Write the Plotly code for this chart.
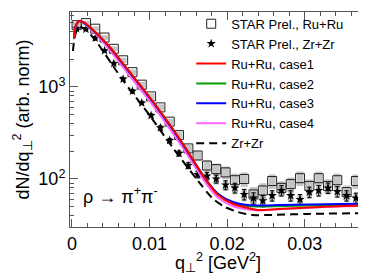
import plotly.graph_objects as go

# ---------------- data ----------------
# theory curves (q_perp^2 in GeV^2, dN/dq^2)
q_case1 = [0.00026, 0.00052, 0.0009, 0.00142, 0.00245, 0.00465, 0.00723, 0.0098, 0.0120, 0.01432, 0.01626, 0.01755, 0.01884, 0.02077, 0.0227, 0.0240, 0.0266, 0.03045, 0.0350, 0.0390]
y_case1 = [3412, 4720, 5215, 5090, 4378, 2862, 1531, 818, 460, 240, 132, 90.6, 67.0, 53.5, 48.4, 46.0, 47.2, 49.0, 50.9, 50.9]

q_case2 = [0.00026, 0.00052, 0.0009, 0.00142, 0.00245, 0.00465, 0.00723, 0.0098, 0.0120, 0.01432, 0.01626, 0.01755, 0.01884, 0.02077, 0.0227, 0.0246, 0.0266, 0.03045, 0.0350, 0.0390]
y_case2 = [3350, 4650, 5150, 5030, 4320, 2830, 1515, 810, 455, 238, 132, 91.5, 68.5, 54.8, 50.9, 50.3, 50.6, 51.5, 52.0, 52.1]

q_case3 = [0.00026, 0.00052, 0.0009, 0.00142, 0.00245, 0.00465, 0.00723, 0.0098, 0.0120, 0.01432, 0.01626, 0.01755, 0.01884, 0.02077, 0.0227, 0.0246, 0.0266, 0.03045, 0.0350, 0.0390]
y_case3 = [3380, 4690, 5190, 5060, 4350, 2840, 1515, 808, 452, 236, 131, 91.0, 68.7, 56.2, 52.1, 51.5, 52.0, 52.8, 53.6, 54.2]

q_case4 = [0.00026, 0.00052, 0.0009, 0.00142, 0.00245, 0.00465, 0.00723, 0.0098, 0.0120, 0.01432, 0.01626, 0.01755, 0.01884, 0.02077, 0.0227, 0.0240, 0.0266, 0.03045, 0.0350, 0.0390]
y_case4 = [3300, 4600, 5100, 4950, 4200, 2640, 1390, 740, 415, 216, 120, 83.0, 62.5, 50.5, 46.5, 45.5, 46.8, 48.8, 50.5, 50.9]

q_zrzr = [0.00013, 0.00039, 0.00084, 0.00142, 0.00245, 0.00335, 0.00658, 0.0098, 0.01303, 0.01626, 0.0182, 0.01974, 0.0214, 0.02335, 0.0253, 0.03045, 0.0390]
y_zrzr = [2461, 3580, 4435, 4377, 3673, 2950, 1180, 520, 217, 95, 60.7, 49.6, 43.7, 40.6, 40.6, 41.7, 42.7]

# STAR preliminary data
q_data = [0.0006, 0.0018, 0.0030, 0.0042, 0.0054, 0.0066, 0.0078, 0.0090, 0.0102, 0.0114,
          0.0126, 0.0138, 0.0150, 0.0162, 0.0174, 0.0186, 0.0198, 0.0210, 0.0222, 0.0234,
          0.0246, 0.0258, 0.0270, 0.0282, 0.0294, 0.0306, 0.0318, 0.0330, 0.0342, 0.0354,
          0.0366, 0.0378]
ru_data = [4700, 4950, 4300, 3450, 2600, 1950, 1450, 1060, 790, 600,
           420, 300, 215, 180, 140, 128, 118, 97, 100, 68,
           75, 95, 80, 88, 102, 84, 102, 84, 97, 72,
           95, 88]
ru_sys = [0.06, 0.06, 0.06, 0.06, 0.06, 0.07, 0.07, 0.07, 0.08, 0.08,
          0.08, 0.09, 0.10, 0.12, 0.14, 0.15, 0.16, 0.18, 0.18, 0.20,
          0.20, 0.18, 0.18, 0.18, 0.18, 0.18, 0.18, 0.18, 0.18, 0.18,
          0.18, 0.18]
zr_data = [4300, 4250, 3400, 2480, 1800, 1220, 900, 670, 490, 360,
           262, 190, 140, 112, 108, 100, 86, 80, 68, 62,
           58, 66, 75, 66, 60, 72, 75, 80, 73, 66,
           62, 59]
zr_stat = [0.03, 0.03, 0.03, 0.03, 0.03, 0.03, 0.04, 0.04, 0.04, 0.05,
           0.05, 0.06, 0.07, 0.08, 0.09, 0.10, 0.11, 0.12, 0.13, 0.14,
           0.14, 0.13, 0.13, 0.13, 0.13, 0.13, 0.13, 0.13, 0.13, 0.13,
           0.13, 0.13]
zr_sys = [0.05, 0.05, 0.05, 0.05, 0.05, 0.06, 0.06, 0.06, 0.07, 0.07,
          0.08, 0.09, 0.10, 0.11, 0.12, 0.13, 0.14, 0.15, 0.16, 0.16,
          0.16, 0.15, 0.15, 0.15, 0.15, 0.15, 0.15, 0.15, 0.15, 0.15,
          0.15, 0.15]

y_major = [100, 1000]
y_major_text = ["10<sup>2</sup>", "10<sup>3</sup>"]
y_minor = [30, 40, 50, 60, 70, 80, 90, 200, 300, 400, 500, 600, 700, 800, 900, 2000, 3000, 4000, 5000, 6000]

# ---------------- figure ----------------
FONT = "Liberation Sans, Arial, sans-serif"
fig = go.Figure()

ru_lo = [v * (1 - s) for v, s in zip(ru_data, ru_sys)]
ru_len = [v * 2 * s for v, s in zip(ru_data, ru_sys)]
zr_lo = [v * (1 - s) for v, s in zip(zr_data, zr_sys)]
zr_len = [v * 2 * s for v, s in zip(zr_data, zr_sys)]

fig.add_trace(go.Bar(x=q_data, y=ru_len, base=ru_lo, width=0.0009,
                     marker=dict(color="rgba(150,150,150,0.55)", line=dict(width=0)),
                     showlegend=False, hoverinfo="skip"))
fig.add_trace(go.Bar(x=q_data, y=zr_len, base=zr_lo, width=0.0007,
                     marker=dict(color="rgba(140,140,140,0.55)", line=dict(width=0)),
                     showlegend=False, hoverinfo="skip"))

fig.add_trace(go.Scatter(x=q_data, y=ru_data, mode="markers", name="STAR Prel., Ru+Ru",
                         marker=dict(symbol="square-open", size=9, color="#222",
                                     line=dict(width=1, color="#222"))))
fig.add_trace(go.Scatter(x=q_data, y=zr_data, mode="markers", name="STAR Prel., Zr+Zr",
                         marker=dict(symbol="star", size=7, color="black"),
                         error_y=dict(type="data", symmetric=True,
                                      array=[v * s for v, s in zip(zr_data, zr_stat)],
                                      color="black", thickness=1, width=2)))

curves = [
    (q_case1, y_case1, "Ru+Ru, case1", "#ff0000", "solid"),
    (q_case2, y_case2, "Ru+Ru, case2", "#00a000", "solid"),
    (q_case3, y_case3, "Ru+Ru, case3", "#0000ff", "solid"),
    (q_case4, y_case4, "Ru+Ru, case4", "#ff66ff", "solid"),
    (q_zrzr, y_zrzr, "Zr+Zr", "black", "8px,5px"),
]
# legend entries (in legend order) without data
for qx, qy, nm, col, dash in curves:
    fig.add_trace(go.Scatter(x=[None], y=[None], mode="lines", name=nm,
                             line=dict(color=col, width=2, dash=dash)))
# actual curves, drawn with red on top
for i in [4, 3, 1, 2, 0]:
    qx, qy, nm, col, dash = curves[i]
    fig.add_trace(go.Scatter(x=qx, y=qy, mode="lines", name=nm, showlegend=False,
                             line=dict(color=col, width=2, dash=dash, shape="spline", smoothing=0.8)))

fig.add_annotation(text="ρ → π<sup>+</sup>π<sup>-</sup>", xref="paper", yref="paper",
                   x=0.036, y=0.145, xanchor="left", yanchor="middle", showarrow=False,
                   font=dict(family=FONT, size=18, color="black"))
fig.add_annotation(text="q<sub>⊥</sub><sup>2</sup> [GeV<sup>2</sup>]", xref="paper", yref="paper",
                   x=0.49, y=-0.165, xanchor="center", yanchor="middle", showarrow=False,
                   font=dict(family=FONT, size=18, color="black"))

axis_col = "#555"
fig.update_layout(
    width=366, height=275,
    margin=dict(l=62, r=1, t=4, b=56),
    paper_bgcolor="white", plot_bgcolor="white",
    font=dict(family=FONT, size=18, color="black"),
    barmode="overlay",
    showlegend=True,
    legend=dict(x=0.40, y=1.015, xanchor="left", yanchor="top",
                bgcolor="rgba(0,0,0,0)", borderwidth=0,
                font=dict(family=FONT, size=13, color="black"),
                tracegroupgap=0, itemwidth=30, maxheight=1),
    xaxis=dict(range=[-0.00025, 0.0388], showline=True, linecolor=axis_col, linewidth=1,
               mirror="ticks", ticks="inside", ticklen=8, tickcolor=axis_col,
               tickvals=[0, 0.01, 0.02, 0.03], ticktext=["0", "0.01", "0.02", "0.03"],
               minor=dict(ticks="inside", ticklen=4, tickcolor=axis_col, dtick=0.002, tick0=0, showgrid=False),
               showgrid=False, zeroline=False),
    yaxis=dict(type="log", range=[1.478, 3.815], showline=True, linecolor=axis_col, linewidth=1,
               mirror="ticks", ticks="inside", ticklen=8, tickcolor=axis_col,
               tickvals=y_major, ticktext=y_major_text,
               minor=dict(ticks="inside", ticklen=4, tickcolor=axis_col, tickmode="array",
                          tickvals=y_minor, showgrid=False),
               showgrid=False, zeroline=False,
               title=dict(text="dN/dq<sub>⊥</sub><sup>2</sup> (arb. norm)", standoff=4,
                          font=dict(size=18))),
)

fig.write_html("out.html")
